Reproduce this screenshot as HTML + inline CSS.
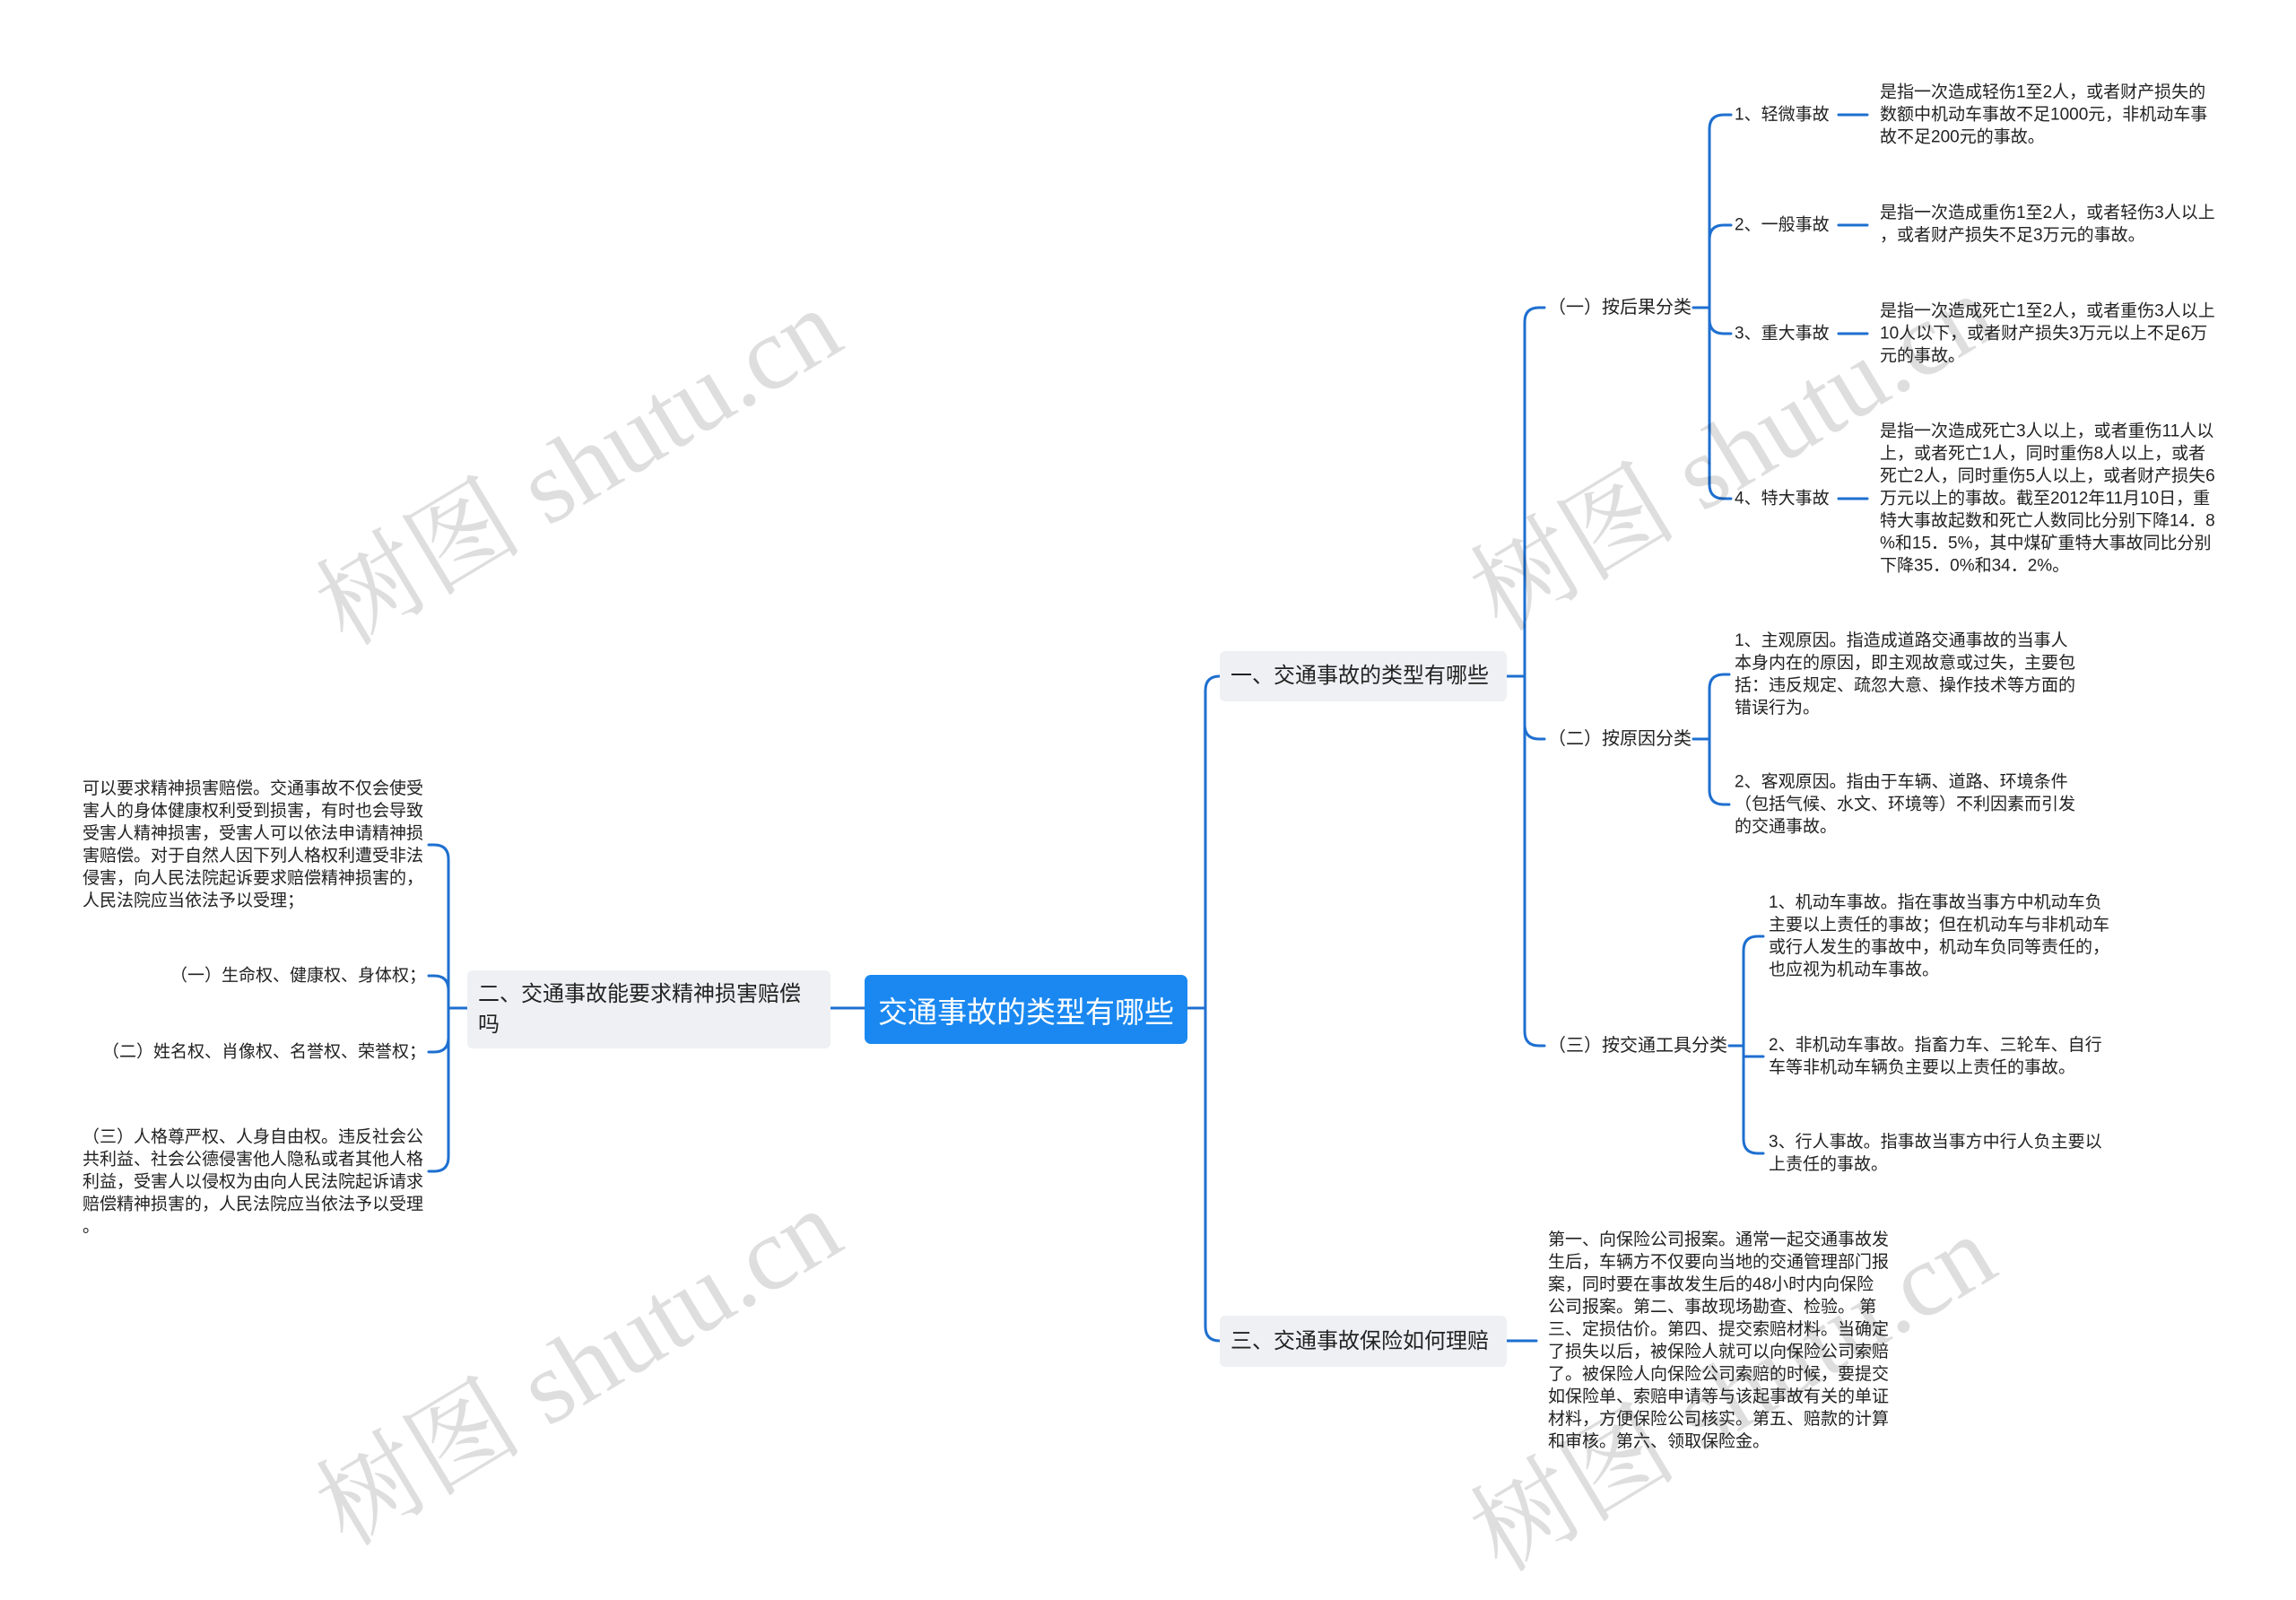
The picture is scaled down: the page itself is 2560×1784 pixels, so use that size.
<!DOCTYPE html>
<html><head><meta charset="utf-8">
<style>
html,body{margin:0;padding:0;background:#fff;}
body{width:2560px;height:1704px;position:relative;overflow:hidden;font-family:"Liberation Sans","Noto Sans CJK SC",sans-serif;color:#222;}
.t{position:absolute;font-size:19px;line-height:25px;white-space:nowrap;transform:translateY(-50%);}
.l2{position:absolute;font-size:20px;line-height:26px;white-space:nowrap;transform:translateY(-50%);}
.n1{position:absolute;background:#eef0f3;border-radius:6px;font-size:24px;line-height:32px;box-sizing:border-box;padding:0 12px;display:flex;align-items:center;}
.wm{position:absolute;font-family:"Liberation Serif","Noto Serif CJK SC",serif;font-size:116px;color:rgba(0,0,0,0.13);white-space:nowrap;transform:translate(-50%,-50%) rotate(-31deg);}
svg{position:absolute;left:0;top:0;}
</style></head><body>
<svg width="2560" height="1704" fill="none" stroke="#1e6fd0" stroke-width="3" stroke-linecap="round">
<path d="M1324,1124 H1344 M1344,1124 V770 Q1344,754 1360,754 M1344,1124 V1479 Q1344,1495 1360,1495"/>
<path d="M964,1124 H926"/>
<path d="M1680,754 H1700 M1700,754 V359 Q1700,343 1716,343 H1722 M1700,754 V808 Q1700,824 1716,824 H1722 M1700,754 V1150 Q1700,1166 1716,1166 H1722"/>
<path d="M1888,343 H1906 M1906,343 V144 Q1906,128 1922,128 H1930 M1906,343 V267 Q1906,251 1922,251 H1930 M1906,343 V356 Q1906,372 1922,372 H1930 M1906,343 V540 Q1906,556 1922,556 H1930"/>
<path d="M2050,128 H2082 M2050,251 H2082 M2050,372 H2082 M2050,556 H2082"/>
<path d="M1888,824 H1906 M1906,824 V768 Q1906,752 1922,752 H1928 M1906,824 V881 Q1906,897 1922,897 H1928"/>
<path d="M1928,1166 H1944 M1944,1166 V1060 Q1944,1044 1960,1044 H1966 M1944,1166 V1178 H1966 M1944,1166 V1270 Q1944,1286 1960,1286 H1966"/>
<path d="M1680,1495 H1713"/>
<path d="M521,1124 H500 M500,1124 V958 Q500,942 484,942 H478 M500,1124 V1104 Q500,1088 484,1088 H478 M500,1124 V1157 Q500,1173 484,1173 H478 M500,1124 V1290 Q500,1306 484,1306 H478"/>
</svg>

<div class="wm" style="left:640px;top:512px;">树图 shutu.cn</div>
<div class="wm" style="left:1927px;top:496px;">树图 shutu.cn</div>
<div class="wm" style="left:640px;top:1516px;">树图 shutu.cn</div>
<div class="wm" style="left:1927px;top:1545px;">树图 shutu.cn</div>

<div style="position:absolute;left:964px;top:1087px;width:360px;height:77px;background:#1a88f0;border-radius:7px;color:#fff;font-size:33px;display:flex;align-items:center;justify-content:center;">交通事故的类型有哪些</div>

<div class="n1" style="left:1360px;top:726px;width:320px;height:56px;">一、交通事故的类型有哪些</div>
<div class="n1" style="left:1360px;top:1467px;width:320px;height:57px;">三、交通事故保险如何理赔</div>
<div class="n1" style="left:521px;top:1082px;width:405px;height:87px;line-height:34px;align-items:center;">二、交通事故能要求精神损害赔偿<br>吗</div>

<div class="l2" style="left:1726px;top:343px;">（一）按后果分类</div>
<div class="l2" style="left:1726px;top:824px;">（二）按原因分类</div>
<div class="l2" style="left:1726px;top:1166px;">（三）按交通工具分类</div>

<div class="t" style="left:1934px;top:128px;">1、轻微事故</div>
<div class="t" style="left:1934px;top:251px;">2、一般事故</div>
<div class="t" style="left:1934px;top:372px;">3、重大事故</div>
<div class="t" style="left:1934px;top:556px;">4、特大事故</div>

<div class="t" style="left:2096px;top:128px;">是指一次造成轻伤1至2人，或者财产损失的<br>数额中机动车事故不足1000元，非机动车事<br>故不足200元的事故。</div>
<div class="t" style="left:2096px;top:250px;">是指一次造成重伤1至2人，或者轻伤3人以上<br>，或者财产损失不足3万元的事故。</div>
<div class="t" style="left:2096px;top:372px;">是指一次造成死亡1至2人，或者重伤3人以上<br>10人以下，或者财产损失3万元以上不足6万<br>元的事故。</div>
<div class="t" style="left:2096px;top:556px;">是指一次造成死亡3人以上，或者重伤11人以<br>上，或者死亡1人，同时重伤8人以上，或者<br>死亡2人，同时重伤5人以上，或者财产损失6<br>万元以上的事故。截至2012年11月10日，重<br>特大事故起数和死亡人数同比分别下降14．8<br>%和15．5%，其中煤矿重特大事故同比分别<br>下降35．0%和34．2%。</div>

<div class="t" style="left:1934px;top:752px;">1、主观原因。指造成道路交通事故的当事人<br>本身内在的原因，即主观故意或过失，主要包<br>括：违反规定、疏忽大意、操作技术等方面的<br>错误行为。</div>
<div class="t" style="left:1934px;top:897px;">2、客观原因。指由于车辆、道路、环境条件<br>（包括气候、水文、环境等）不利因素而引发<br>的交通事故。</div>

<div class="t" style="left:1972px;top:1044px;">1、机动车事故。指在事故当事方中机动车负<br>主要以上责任的事故；但在机动车与非机动车<br>或行人发生的事故中，机动车负同等责任的，<br>也应视为机动车事故。</div>
<div class="t" style="left:1972px;top:1178px;">2、非机动车事故。指畜力车、三轮车、自行<br>车等非机动车辆负主要以上责任的事故。</div>
<div class="t" style="left:1972px;top:1286px;">3、行人事故。指事故当事方中行人负主要以<br>上责任的事故。</div>

<div class="t" style="left:1726px;top:1495px;">第一、向保险公司报案。通常一起交通事故发<br>生后，车辆方不仅要向当地的交通管理部门报<br>案，同时要在事故发生后的48小时内向保险<br>公司报案。第二、事故现场勘查、检验。 第<br>三、定损估价。第四、提交索赔材料。当确定<br>了损失以后，被保险人就可以向保险公司索赔<br>了。被保险人向保险公司索赔的时候，要提交<br>如保险单、索赔申请等与该起事故有关的单证<br>材料，方便保险公司核实。第五、赔款的计算<br>和审核。第六、领取保险金。</div>

<div class="t" style="left:92px;top:942px;">可以要求精神损害赔偿。交通事故不仅会使受<br>害人的身体健康权利受到损害，有时也会导致<br>受害人精神损害，受害人可以依法申请精神损<br>害赔偿。对于自然人因下列人格权利遭受非法<br>侵害，向人民法院起诉要求赔偿精神损害的，<br>人民法院应当依法予以受理；</div>
<div class="t" style="right:2085px;top:1088px;">（一）生命权、健康权、身体权；</div>
<div class="t" style="right:2085px;top:1173px;">（二）姓名权、肖像权、名誉权、荣誉权；</div>
<div class="t" style="left:92px;top:1318px;">（三）人格尊严权、人身自由权。违反社会公<br>共利益、社会公德侵害他人隐私或者其他人格<br>利益，受害人以侵权为由向人民法院起诉请求<br>赔偿精神损害的，人民法院应当依法予以受理<br>。</div>
</body></html>
